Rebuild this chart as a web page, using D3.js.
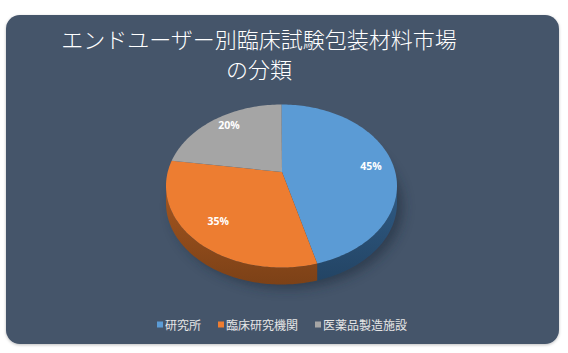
<!DOCTYPE html>
<html>
<head>
<meta charset="utf-8">
<script src="https://cdn.jsdelivr.net/npm/d3@7"></script>
<style>
  body { margin: 0; background: #fff; }
  svg { display: block; }
</style>
</head>
<body>
<script>
const categories = ['研究所', '臨床研究機関', '医薬品製造施設'];
const values = [45, 35, 20];
const titleLines = ['エンドユーザー別臨床試験包装材料市場', 'の分類'];

const WIDTH = 568;
const HEIGHT = 353;
const colors = ['#5b9bd5', '#ed7d31', '#a5a5a5'];
const sideColors = ['#2f5b85', '#a5561f', '#747474'];

// ellipse of the tilted pie top face
const CX = 281.5, CY = 186, RX = 115.5, RY = 81.5, DEPTH = 17;
const APEX = {x: 282, y: 172};

var svg = d3.select('body').append('svg')
    .attr('width', WIDTH)
    .attr('height', HEIGHT);

var defs = svg.append('defs');
defs.append('filter').attr('id', 'blur')
    .attr('x', '-30%').attr('y', '-30%').attr('width', '160%').attr('height', '160%')
  .append('feGaussianBlur').attr('stdDeviation', 6);
defs.append('filter').attr('id', 'panelShadow')
    .attr('x', '-5%').attr('y', '-5%').attr('width', '110%').attr('height', '110%')
  .append('feDropShadow').attr('dx', 0).attr('dy', 1).attr('stdDeviation', 1.5)
    .attr('flood-color', '#000').attr('flood-opacity', 0.25);

svg.append('rect')
    .attr('x', 6).attr('y', 15)
    .attr('width', 553).attr('height', 329)
    .attr('rx', 14)
    .attr('fill', '#44546a')
    .attr('filter', 'url(#panelShadow)');

svg.append('g').selectAll('text').data(titleLines)
    .enter().append('text')
    .attr('x', 259)
    .attr('y', function(d, i) { return 48 + i * 30; })
    .attr('text-anchor', 'middle')
    .attr('fill', '#ffffff')
    .attr('font-family', '"Noto Sans CJK JP", sans-serif')
    .attr('font-weight', 300)
    .attr('font-size', 22)
    .text(function(d) { return d; });

var pie = d3.pie().sort(null).value(function(d) { return d; });
var arcs = pie(values);

function ept(a, dy) {
  return [CX + RX * Math.sin(a), CY - RY * Math.cos(a) + (dy || 0)];
}
function arcPoints(a0, a1, dy) {
  var n = Math.max(2, Math.ceil((a1 - a0) / 0.02));
  return d3.range(n + 1).map(function(i) { return ept(a0 + (a1 - a0) * i / n, dy); });
}
var line = d3.line();

var g = svg.append('g');

// soft shadow under the pie
g.append('ellipse')
    .attr('cx', CX + 6).attr('cy', CY + DEPTH + 4)
    .attr('rx', RX).attr('ry', RY)
    .attr('fill', '#1f2b3a').attr('opacity', 0.55)
    .attr('filter', 'url(#blur)');

// front side walls
var sideGrad = defs.selectAll('.sg').data(sideColors).enter()
    .append('linearGradient')
    .attr('id', function(d, i) { return 'side' + i; })
    .attr('x1', 0).attr('y1', 0).attr('x2', 0).attr('y2', 1);
sideGrad.append('stop').attr('offset', '0%').attr('stop-color', function(d) { return d; });
sideGrad.append('stop').attr('offset', '100%')
    .attr('stop-color', function(d) { return d3.color(d).darker(0.8); });

arcs.forEach(function(d, i) {
  var a0 = Math.max(d.startAngle, Math.PI / 2);
  var a1 = Math.min(d.endAngle, Math.PI * 1.5);
  if (a1 <= a0) return;
  var top = arcPoints(a0, a1, 0);
  var bottom = arcPoints(a0, a1, DEPTH).reverse();
  g.append('path')
      .attr('d', line(top.concat(bottom)) + 'Z')
      .attr('fill', 'url(#side' + i + ')');
});

// top faces
arcs.forEach(function(d, i) {
  var pts = [[APEX.x, APEX.y]].concat(arcPoints(d.startAngle, d.endAngle, 0));
  g.append('path')
      .attr('d', line(pts) + 'Z')
      .attr('fill', colors[i]);
});

// labels
g.selectAll('.lbl').data(arcs).enter()
    .append('text')
    .attr('x', function(d) { var a = (d.startAngle + d.endAngle) / 2; return APEX.x + 0.78 * RX * Math.sin(a); })
    .attr('y', function(d) { var a = (d.startAngle + d.endAngle) / 2; return APEX.y - 0.78 * RY * Math.cos(a) + 8; })
    .attr('text-anchor', 'middle')
    .attr('fill', '#ffffff')
    .attr('font-family', '"Open Sans", sans-serif')
    .attr('font-weight', 'bold')
    .attr('font-size', 10.5)
    .text(function(d) { return d.data + '%'; });

// legend
var legendX = [157, 218, 315];
var legend = svg.append('g').selectAll('g').data(categories).enter()
    .append('g')
    .attr('transform', function(d, i) { return 'translate(' + legendX[i] + ',325)'; });
legend.append('rect')
    .attr('x', 0).attr('y', -3.5)
    .attr('width', 6).attr('height', 6)
    .attr('fill', function(d, i) { return colors[i]; });
legend.append('text')
    .attr('x', 8).attr('y', 4.5)
    .attr('fill', '#e6e6e6')
    .attr('font-family', '"Noto Sans CJK JP", sans-serif')
    .attr('font-size', 12)
    .text(function(d) { return d; });
</script>
</body>
</html>
